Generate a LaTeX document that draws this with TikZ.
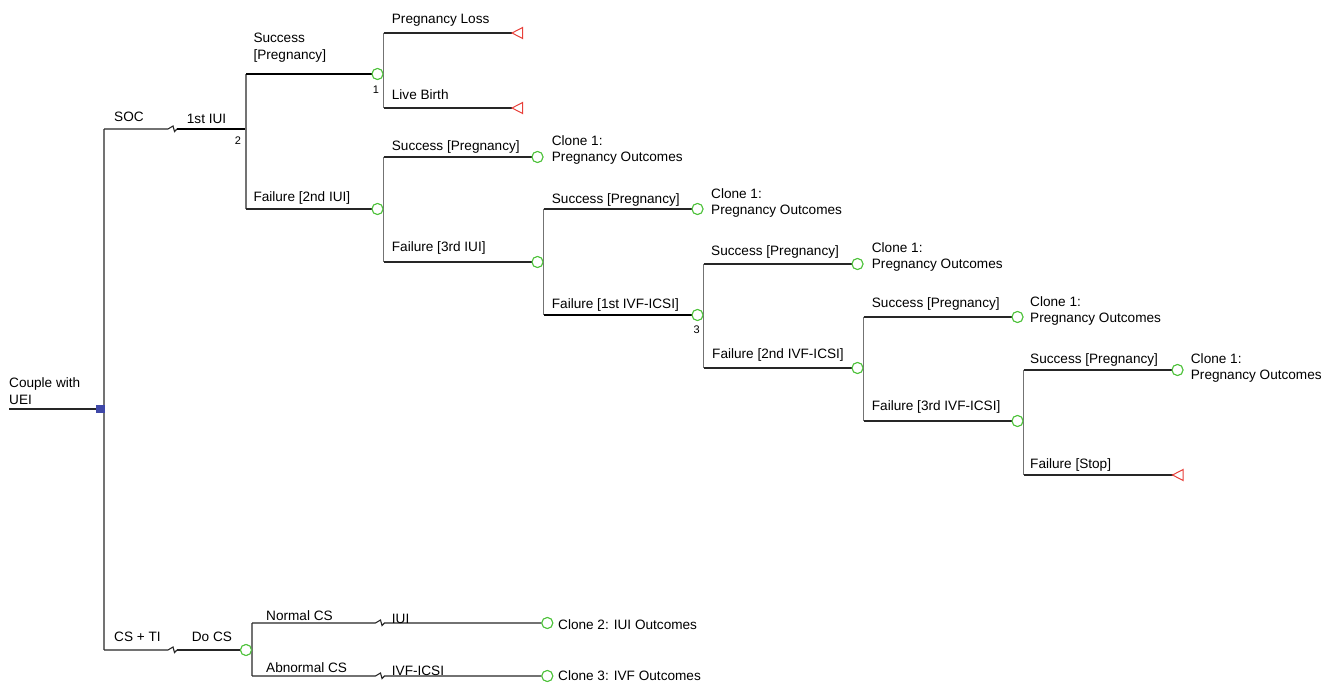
\documentclass[tikz,border=0pt]{standalone}
\usepackage{fontspec}
\setmainfont{Liberation Sans}
\definecolor{cgreen}{HTML}{4DC23A}
\definecolor{cred}{HTML}{E8403A}
\definecolor{cblue}{HTML}{3F48A8}
\begin{document}
\begin{tikzpicture}[x=1pt,y=-1pt,
 hl/.style={draw=black!85,line width=1.1pt},
 vl/.style={draw=black!55,line width=1.1pt},
 hot/.style={draw=black,line width=2.2pt},
 chance/.style={circle,draw=cgreen,fill=white,line width=1pt,minimum size=11pt,inner sep=0pt},
 dec/.style={rectangle,fill=cblue,minimum size=8.5pt,inner sep=0pt},
 lbl/.style={anchor=base west,inner sep=0pt,font=\fontsize{13.6}{16.3}\selectfont,align=left},
 num/.style={inner sep=0pt,font=\fontsize{11}{12}\selectfont},
 tri/.style={draw=cred,line width=1pt,fill=white,line join=miter}
]
\useasboundingbox (0,0) rectangle (1333,684);

% ---- root ----
\coordinate (start) at (9,409);
\node[dec] (d) at (100.5,409) {};
\coordinate (soc0) at (104,129);
\coordinate (cs0) at (104,650);
\coordinate (n2) at (246,129);
\coordinate (n2a) at (246,74);
\coordinate (n2b) at (246,209);

% ---- chance nodes ----
\node[chance] (c1) at (377.5,74) {};
\node[chance] (c2) at (377.5,209) {};
\node[chance] (c3) at (537.5,262) {};
\node[chance] (c4) at (697.5,315) {};
\node[chance] (c5) at (857.5,368) {};
\node[chance] (c6) at (1017.5,421) {};
\node[chance] (c7) at (246,650) {};
% clone terminals
\node[chance] (e1) at (537.5,157) {};
\node[chance] (e2) at (697.5,209) {};
\node[chance] (e3) at (857.5,264) {};
\node[chance] (e4) at (1017.5,317) {};
\node[chance] (e5) at (1177.5,370) {};
\node[chance] (e6) at (547.3,623) {};
\node[chance] (e7) at (547.3,676) {};
% terminal triangles (apex)
\coordinate (t1) at (512,33);
\coordinate (t2) at (512,108);
\coordinate (t3) at (1172.5,475);

% ---- connectors ----
\draw[hl] (start) -- (d.west);
\draw[vl] (soc0) -- (cs0);
\draw[hl] (soc0) -- ++(64,0) -- ++(5,-3) -- ++(1.5,5.5) -- ++(2.5,-2.5) coordinate (soc1);
\draw[hot] (soc1) -- (n2);
\draw[vl] (n2a) -- (n2b);
\draw[hot] (n2a) -- (c1.west);
\draw[hl] (n2b) -- (c2.west);

\draw[vl] (c1.east |- t1) -- (c1.east |- t2);
\draw[hl] (c1.east |- t1) -- (t1);
\draw[hl] (c1.east |- t2) -- (t2);

\draw[vl] (c2.east |- e1) -- (c2.east |- c3);
\draw[hl] (c2.east |- e1) -- (e1.west);
\draw[hl] (c2.east |- c3) -- (c3.west);

\draw[vl] (c3.east |- e2) -- (c3.east |- c4);
\draw[hl] (c3.east |- e2) -- (e2.west);
\draw[hot] (c3.east |- c4) -- (c4.west);

\draw[vl] (c4.east |- e3) -- (c4.east |- c5);
\draw[hl] (c4.east |- e3) -- (e3.west);
\draw[hl] (c4.east |- c5) -- (c5.west);

\draw[vl] (c5.east |- e4) -- (c5.east |- c6);
\draw[hl] (c5.east |- e4) -- (e4.west);
\draw[hl] (c5.east |- c6) -- (c6.west);

\draw[vl] (c6.east |- e5) -- (c6.east |- t3);
\draw[hl] (c6.east |- e5) -- (e5.west);
\draw[hl] (c6.east |- t3) -- (t3);

\draw[hl] (cs0) -- ++(64,0) -- ++(5,-3) -- ++(1.5,5.5) -- ++(2.5,-2.5) coordinate (cs1);
\draw[hl] (cs1) -- (c7.west);
\draw[vl] (c7.east |- e6) -- (c7.east |- e7);
\draw[hl] (c7.east |- e6) -- ++(123.5,0) -- ++(5,-3) -- ++(1.5,5.5) -- ++(2.5,-2.5) -- (e6.west);
\draw[hl] (c7.east |- e7) -- ++(123.5,0) -- ++(5,-3) -- ++(1.5,5.5) -- ++(2.5,-2.5) -- (e7.west);

% redraw nodes on top
\foreach \n in {c1,c2,c3,c4,c5,c6,c7,e1,e2,e3,e4,e5,e6,e7}{
  \draw[cgreen,fill=white,line width=1pt] (\n) circle (5.5pt);
}
\node[dec] at (d) {};
\draw[tri] (t1) -- ++(10.6,-5.5) -- ++(0,11) -- cycle;
\draw[tri] (t2) -- ++(10.6,-5.5) -- ++(0,11) -- cycle;
\draw[tri] (t3) -- ++(10.6,-5.5) -- ++(0,11) -- cycle;

% ---- labels ----
\node[lbl] (l0) at (9,404) {Couple with\\UEI};
\node[lbl] (l1) at (114,121.7) {SOC};
\node[lbl] (l2) at (186.7,124) {1st IUI};
\node[num] (k2) at (238,141) {2};
\node[lbl] (l3) at (253.3,59.3) {Success\\{[Pregnancy]}};
\node[lbl] (l4) at (253.3,201.7) {Failure [2nd IUI]};
\node[num] (k1) at (376,89.3) {1};
\node[lbl] (l5) at (391.7,23.3) {Pregnancy Loss};
\node[lbl] (l6) at (391.7,99.7) {Live Birth};
\node[lbl] (l7) at (391.7,151) {Success [Pregnancy]};
\node[lbl] (l8) at (391.7,252) {Failure [3rd IUI]};
\node[lbl] (l9) at (551.7,162) {Clone 1:\\Pregnancy Outcomes};
\node[lbl] (l10) at (551.7,204) {Success [Pregnancy]};
\node[lbl] (l11) at (551.7,309) {Failure [1st IVF-ICSI]};
\node[num] (k3) at (696.7,329.3) {3};
\node[lbl] (l12) at (711,215) {Clone 1:\\Pregnancy Outcomes};
\node[lbl] (l13) at (711,255.7) {Success [Pregnancy]};
\node[lbl] (l14) at (712,359) {Failure [2nd IVF-ICSI]};
\node[lbl] (l15) at (871.7,269) {Clone 1:\\Pregnancy Outcomes};
\node[lbl] (l16) at (871.7,307.7) {Success [Pregnancy]};
\node[lbl] (l17) at (871.7,410) {Failure [3rd IVF-ICSI]};
\node[lbl] (l18) at (1030,323) {Clone 1:\\Pregnancy Outcomes};
\node[lbl] (l19) at (1030,363.3) {Success [Pregnancy]};
\node[lbl] (l20) at (1190.7,380) {Clone 1:\\Pregnancy Outcomes};
\node[lbl] (l21) at (1030,468.3) {Failure [Stop]};
\node[lbl] (l22) at (114,641.7) {CS + TI};
\node[lbl] (l23) at (191.7,641.7) {Do CS};
\node[lbl] (l24) at (266,620) {Normal CS};
\node[lbl] (l25) at (266,672.3) {Abnormal CS};
\node[lbl] (l26) at (391.7,623.3) {IUI};
\node[lbl] (l27) at (391.7,675) {IVF-ICSI};
\node[lbl] (l28) at (558,629.3) {Clone 2: IUI Outcomes};
\node[lbl] (l29) at (558,680) {Clone 3: IVF Outcomes};
\end{tikzpicture}
\end{document}
